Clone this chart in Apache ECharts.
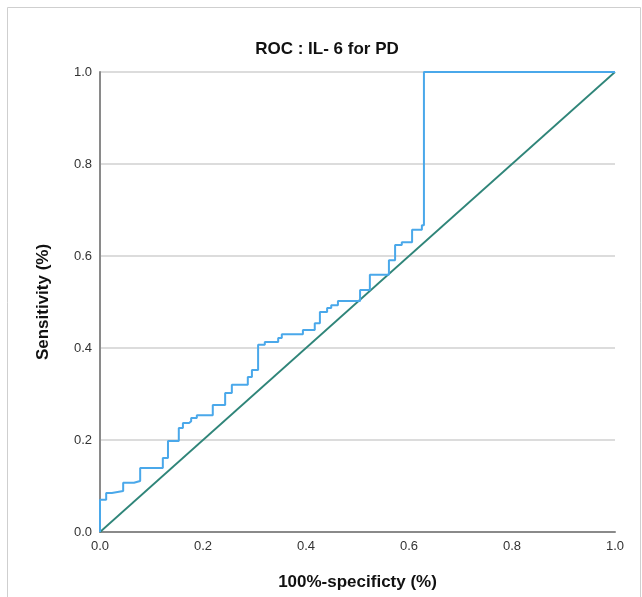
<!DOCTYPE html>
<html><head><meta charset="utf-8">
<script src="https://cdn.jsdelivr.net/npm/echarts@6/dist/echarts.min.js"></script>
<style>html,body{margin:0;padding:0;background:#fff}#c{width:642px;height:597px}</style>
</head><body><div id="c"></div>
<script>
var titleText = "ROC : IL- 6 for PD";
var xAxisName = "100%-specificty (%)";
var yAxisName = "Sensitivity (%)";
var tickValues = [0.0, 0.2, 0.4, 0.6, 0.8, 1.0];
// ROC points (1 - specificity, sensitivity); steps drawn horizontal then vertical
var fpr = [0, 0, 0.012, 0.023, 0.045, 0.066, 0.078, 0.122, 0.132, 0.153, 0.161, 0.173, 0.177, 0.188, 0.219, 0.243, 0.256, 0.287, 0.295, 0.307, 0.320, 0.346, 0.353, 0.394, 0.417, 0.427, 0.441, 0.449, 0.462, 0.505, 0.524, 0.561, 0.573, 0.586, 0.606, 0.625, 0.629, 1.0];
var tpr = [0, 0.070, 0.085, 0.089, 0.107, 0.111, 0.139, 0.161, 0.198, 0.226, 0.237, 0.241, 0.248, 0.254, 0.276, 0.302, 0.320, 0.337, 0.352, 0.407, 0.413, 0.422, 0.430, 0.439, 0.454, 0.478, 0.487, 0.493, 0.502, 0.526, 0.559, 0.591, 0.624, 0.630, 0.657, 0.667, 1.0, 1.0];
var refX = [0, 1];
var refY = [0, 1];

var chart = echarts.init(document.getElementById('c'), null, {renderer: 'canvas'});
var rocData = fpr.map(function (v, i) { return [v, tpr[i]]; });
var refData = refX.map(function (v, i) { return [v, refY[i]]; });
var fmt = function (v) { return v.toFixed(1); };
var font = 'Liberation Sans, Arial';
chart.setOption({
  backgroundColor: '#fff',
  animation: false,
  title: {
    text: titleText, left: 322, top: 36, textAlign: 'center',
    textStyle: {fontFamily: font, fontSize: 17, fontWeight: 'bold', color: '#111'}
  },
  graphic: [{
    type: 'polyline', silent: true,
    shape: {points: [[7.5, 600], [7.5, 7.5], [640.5, 7.5], [640.5, 600]]},
    style: {stroke: '#cfcfcf', lineWidth: 1, fill: null}
  }],
  grid: {left: 100, right: 27, top: 72, bottom: 65, containLabel: false},
  xAxis: {
    type: 'value', min: 0, max: 1, interval: 0.2,
    name: xAxisName, nameLocation: 'middle', nameGap: 42,
    nameTextStyle: {fontFamily: font, fontSize: 17, fontWeight: 'bold', color: '#111'},
    axisLine: {show: true, lineStyle: {color: '#8a8a8a', width: 2}},
    axisTick: {show: false},
    splitLine: {show: false},
    axisLabel: {color: '#333', fontFamily: font, fontSize: 13, margin: 8, formatter: fmt}
  },
  yAxis: {
    type: 'value', min: 0, max: 1, interval: 0.2,
    name: yAxisName, nameLocation: 'middle', nameGap: 48, nameRotate: 90,
    nameTextStyle: {fontFamily: font, fontSize: 17, fontWeight: 'bold', color: '#111'},
    axisLine: {show: true, lineStyle: {color: '#8a8a8a', width: 2}},
    axisTick: {show: false},
    splitLine: {show: true, lineStyle: {color: '#d0d0d0', width: 1.5}},
    axisLabel: {color: '#333', fontFamily: font, fontSize: 13, margin: 8, formatter: fmt}
  },
  series: [
    {type: 'line', data: refData, symbol: 'none', z: 2,
     lineStyle: {color: '#2f8579', width: 1.8}},
    {type: 'line', data: rocData, symbol: 'none', step: 'end', z: 3,
     lineStyle: {color: '#4aa8ea', width: 2}}
  ]
});
</script></body></html>
